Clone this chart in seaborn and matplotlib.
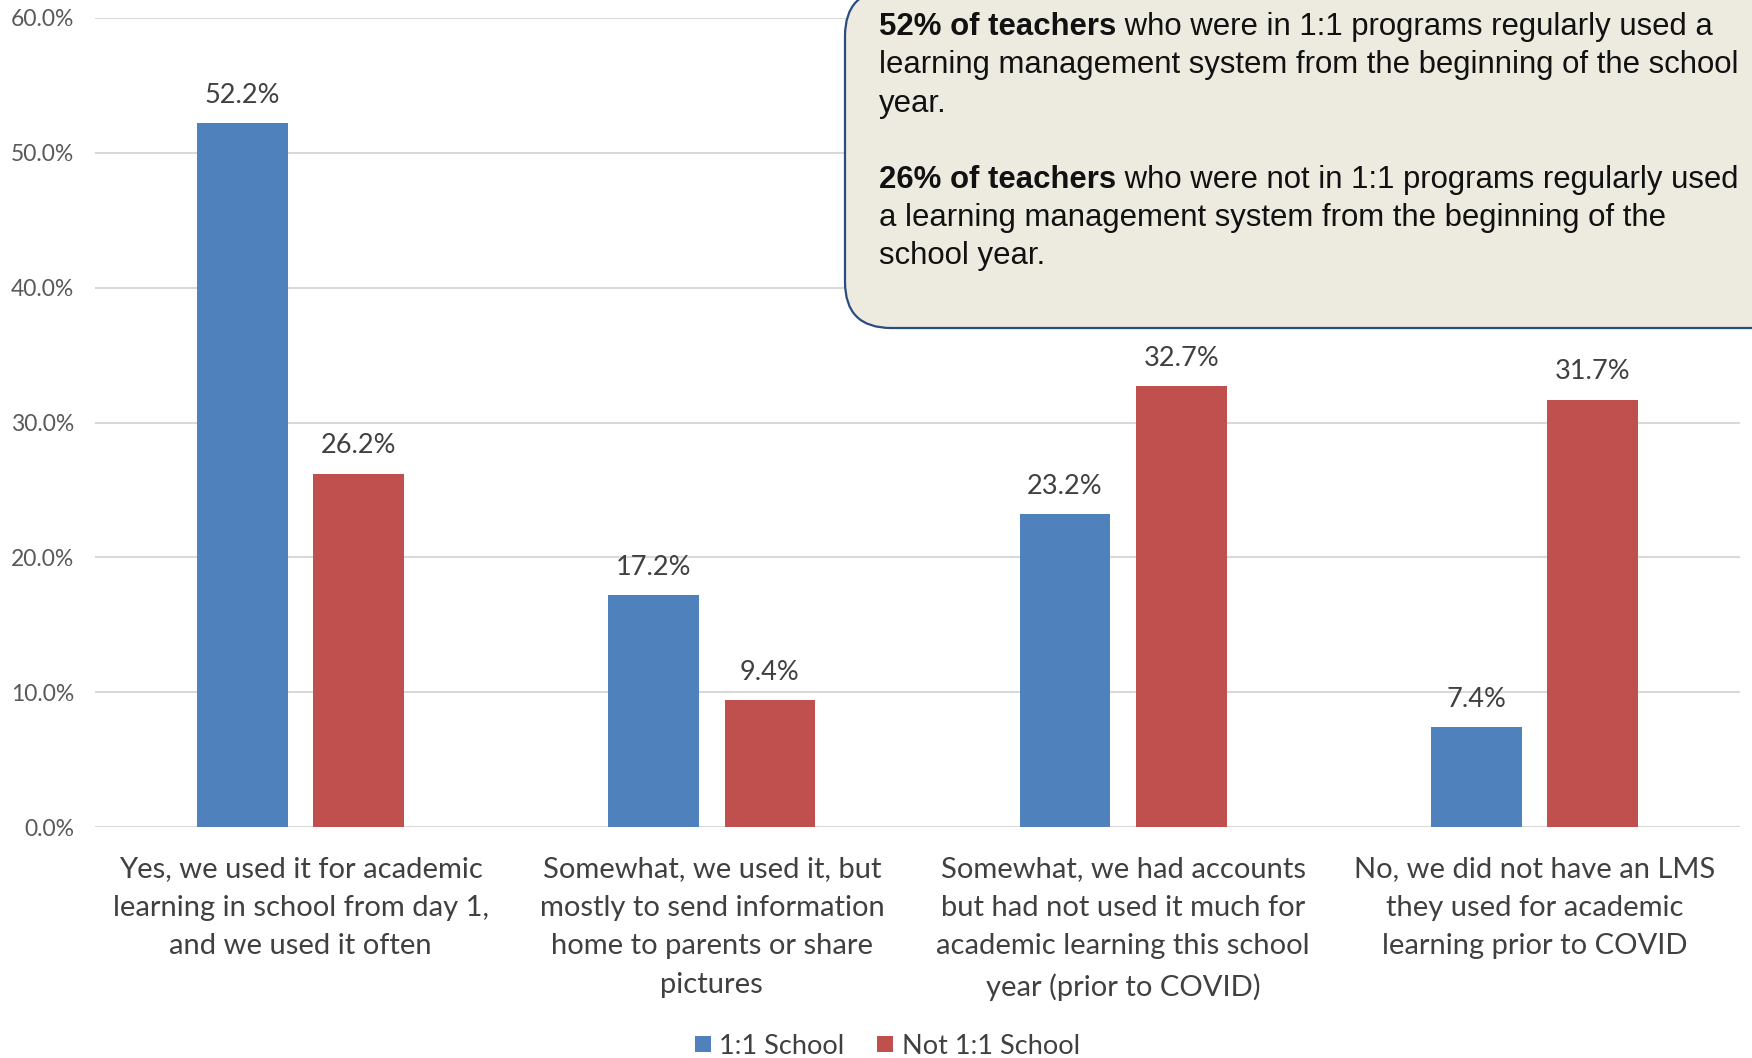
import matplotlib
matplotlib.use("Agg")
import matplotlib.pyplot as plt
import seaborn as sns
import pandas as pd
from matplotlib.patches import FancyBboxPatch
from matplotlib.lines import Line2D

categories = [
    "Yes, we used it for academic\nlearning in school from day 1,\nand we used it often",
    "Somewhat, we used it, but\nmostly to send information\nhome to parents or share\npictures",
    "Somewhat, we had accounts\nbut had not used it much for\nacademic learning this school\nyear (prior to COVID)",
    "No, we did not have an LMS\nthey used for academic\nlearning prior to COVID",
]
series_names = ["1:1 School", "Not 1:1 School"]
one_to_one = [52.2, 17.2, 23.2, 7.4]
not_one_to_one = [26.2, 9.4, 32.7, 31.7]
y_ticks = [0, 10, 20, 30, 40, 50, 60]
colors = ["#4F81BD", "#C0504D"]

df = pd.DataFrame({
    "category": categories * 2,
    "value": one_to_one + not_one_to_one,
    "group": [series_names[0]] * 4 + [series_names[1]] * 4,
})

sns.set_style("white")
plt.rcParams["font.family"] = ["Lato", "DejaVu Sans"]

W, H = 1752, 1058
fig = plt.figure(figsize=(W / 100, H / 100), dpi=100)
ax = fig.add_axes([95 / W, 1 - 827 / H, (1740 - 95) / W, (827 - 18) / H])

sns.barplot(data=df, x="category", y="value", hue="group", palette=colors,
            order=categories, hue_order=series_names, width=0.565, gap=0.22,
            saturation=1, linewidth=0, ax=ax, legend=False, zorder=3)

ax.set_xlim(-0.5, 3.5)
ax.set_ylim(0, 60)
ax.set_yticks(y_ticks)
ax.set_yticklabels([f"{t:.1f}%" for t in y_ticks])
ax.grid(axis="y", color="#D9D9D9", linewidth=1.5, zorder=0)
ax.grid(axis="x", visible=False)
for s in ax.spines.values():
    s.set_visible(False)
ax.tick_params(axis="y", length=0, pad=15, labelsize=16.5, labelcolor="#595959")
ax.tick_params(axis="x", length=0, pad=21, labelsize=21, labelcolor="#404040")
for lbl in ax.get_xticklabels():
    lbl.set_linespacing(1.6)
ax.set_xlabel("")
ax.set_ylabel("")

for cont in ax.containers:
    ax.bar_label(cont, fmt="%.1f%%", padding=11, fontsize=19.5, color="#404040")

# legend
handles = [Line2D([], [], marker="s", linestyle="", markersize=11,
                  markerfacecolor=c, markeredgewidth=0) for c in colors]
fig.legend(handles, series_names, loc="center", bbox_to_anchor=(886 / W, 1 - 1046 / H),
           ncol=2, frameon=False, fontsize=19.5, labelcolor="#404040",
           handletextpad=0.2, columnspacing=1.1, handlelength=0.8)

# overlay axes in pixel coords for callout
ov = fig.add_axes([0, 0, 1, 1], zorder=10)
ov.set_xlim(0, W)
ov.set_ylim(H, 0)
ov.axis("off")
box = FancyBboxPatch((845, -10), 1000, 338,
                     boxstyle="round,pad=0,rounding_size=46",
                     facecolor="#EDEAE0", edgecolor="#2B4C7E", linewidth=1.6)
ov.add_patch(box)

lines = [
    ("52% of teachers", " who were in 1:1 programs regularly used a", 27),
    ("", "learning management system from the beginning of the school", 65),
    ("", "year.", 104),
    ("26% of teachers", " who were not in 1:1 programs regularly used", 180),
    ("", "a learning management system from the beginning of the", 218),
    ("", "school year.", 256),
]
fs = 22.4
for bold, reg, y in lines:
    if bold:
        t = ov.text(879, y, bold, fontsize=fs, fontweight="bold", family="Liberation Sans",
                    va="center", ha="left", color="#111111")
        ov.annotate(reg, xy=(1, 0.5), xycoords=t, va="center", ha="left",
                    fontsize=fs, family="Liberation Sans", color="#111111")
    else:
        ov.text(879, y, reg, fontsize=fs, family="Liberation Sans",
                va="center", ha="left", color="#111111")

fig.savefig("out.png", dpi=100)
